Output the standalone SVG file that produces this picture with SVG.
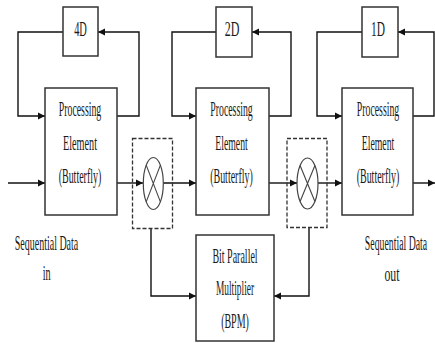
<svg xmlns="http://www.w3.org/2000/svg" width="435" height="343" viewBox="0 0 435 343">
<style>
.box{fill:#fff;stroke:#333;stroke-width:1.5}
.dash{fill:none;stroke:#333;stroke-width:1.3;stroke-dasharray:4 2}
.ln{fill:none;stroke:#111;stroke-width:1.4}
.t{font-family:"Liberation Serif","Times New Roman",serif;font-size:20px;fill:#1a1a1a;text-anchor:middle}
</style>
<defs>
<marker id="ah" markerUnits="userSpaceOnUse" markerWidth="8" markerHeight="8" refX="7" refY="4" orient="auto">
<path d="M0,0.5 L7,4 L0,7.5 z" fill="#111"/>
</marker>
</defs>
<rect width="435" height="343" fill="#fff"/>
<g id="connectors">
<path class="ln" d="M63,32 H18 V116 H45" marker-end="url(#ah)"/>
<path class="ln" d="M117,116 H139 V32 H98" marker-end="url(#ah)"/>
<path class="ln" d="M216,32 H172 V116 H196" marker-end="url(#ah)"/>
<path class="ln" d="M269,116 H291 V32 H252" marker-end="url(#ah)"/>
<path class="ln" d="M362,32 H317 V116 H342" marker-end="url(#ah)"/>
<path class="ln" d="M413,116 H434 V32 H398" marker-end="url(#ah)"/>
<path class="ln" d="M8,183 H45" marker-end="url(#ah)"/>
<path class="ln" d="M117,183 H143" marker-end="url(#ah)"/>
<path class="ln" d="M163,183 H196" marker-end="url(#ah)"/>
<path class="ln" d="M269,183 H297" marker-end="url(#ah)"/>
<path class="ln" d="M318,183 H342" marker-end="url(#ah)"/>
<path class="ln" d="M413,183 H435" marker-end="url(#ah)"/>
<path class="ln" d="M151,228 V296 H196" marker-end="url(#ah)"/>
<path class="ln" d="M309,228 V296 H274" marker-end="url(#ah)"/>
</g>
<g id="d4">
<rect class="box" x="63" y="7" width="35" height="49"/>
<text class="t" transform="translate(80.5,36) scale(0.52,1)">4D</text>
</g>
<g id="d2">
<rect class="box" x="216" y="7" width="36" height="50"/>
<text class="t" transform="translate(232,36) scale(0.6,1)">2D</text>
</g>
<g id="d1">
<rect class="box" x="362" y="7" width="36" height="50"/>
<text class="t" transform="translate(378,36) scale(0.57,1)">1D</text>
</g>
<g id="pe1">
<rect class="box" x="45" y="88" width="72" height="127"/>
<text class="t" transform="translate(80,116) scale(0.49,1)">Processing</text>
<text class="t" transform="translate(80,150) scale(0.51,1)">Element</text>
<text class="t" transform="translate(80,183) scale(0.5,1)">(Butterfly)</text>
</g>
<g id="pe2">
<rect class="box" x="196" y="88" width="73" height="127"/>
<text class="t" transform="translate(231.5,116) scale(0.49,1)">Processing</text>
<text class="t" transform="translate(231.5,150) scale(0.49,1)">Element</text>
<text class="t" transform="translate(231.5,183) scale(0.5,1)">(Butterfly)</text>
</g>
<g id="pe3">
<rect class="box" x="342" y="88" width="71" height="127"/>
<text class="t" transform="translate(378,116) scale(0.49,1)">Processing</text>
<text class="t" transform="translate(378,150) scale(0.49,1)">Element</text>
<text class="t" transform="translate(378,183) scale(0.5,1)">(Butterfly)</text>
</g>
<g id="mul1">
<rect class="dash" x="132.5" y="138.5" width="40" height="90"/>
<ellipse cx="153.3" cy="183.5" rx="10" ry="26" fill="#fff" stroke="#444" stroke-width="1.2"/>
<path d="M146.2,165.1 L160.4,201.9 M160.4,165.1 L146.2,201.9" stroke="#444" stroke-width="1.1"/>
</g>
<g id="mul2">
<rect class="dash" x="287" y="138.5" width="40" height="89"/>
<ellipse cx="307.5" cy="183.5" rx="10.5" ry="25.5" fill="#fff" stroke="#444" stroke-width="1.2"/>
<path d="M300.1,165.5 L314.9,201.5 M314.9,165.5 L300.1,201.5" stroke="#444" stroke-width="1.1"/>
</g>
<g id="bpm">
<rect class="box" x="196" y="235" width="78" height="106"/>
<text class="t" transform="translate(235,263) scale(0.5,1)">Bit Parallel</text>
<text class="t" transform="translate(235,295) scale(0.47,1)">Multiplier</text>
<text class="t" transform="translate(235,328) scale(0.5,1)">(BPM)</text>
</g>
<g id="in">
<text class="t" transform="translate(46.5,250) scale(0.5,1)">Sequential Data</text>
<text class="t" transform="translate(46.7,280) scale(0.51,1)">in</text>
</g>
<g id="out">
<text class="t" transform="translate(396,250) scale(0.49,1)">Sequential Data</text>
<text class="t" transform="translate(392,281) scale(0.59,1)">out</text>
</g>
</svg>
